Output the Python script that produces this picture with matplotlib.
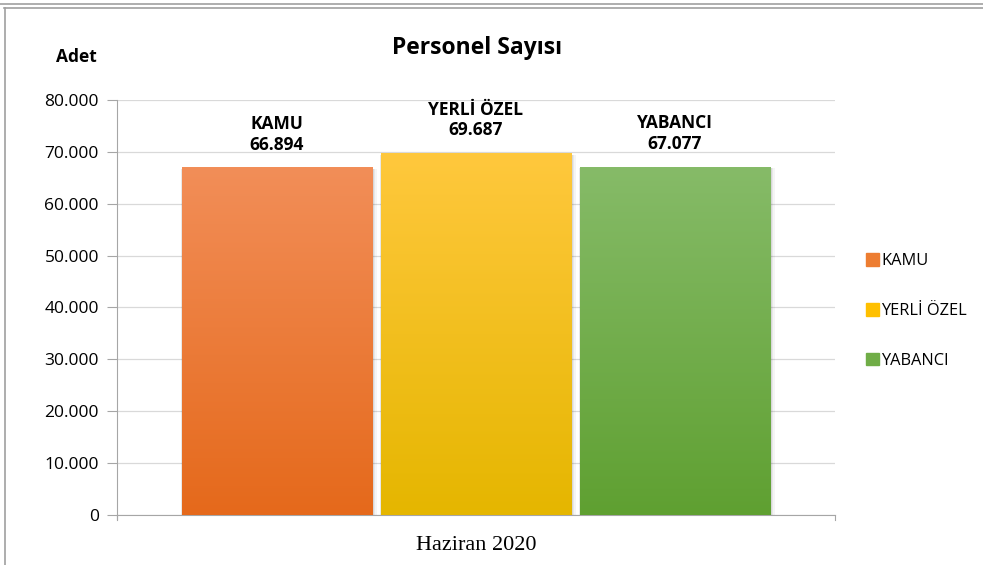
import numpy as np
import matplotlib.pyplot as plt
from matplotlib.colors import LinearSegmentedColormap
from matplotlib.patches import Rectangle
from matplotlib.lines import Line2D

# data
categories = ['KAMU', 'YERLİ ÖZEL', 'YABANCI']
values = [66894, 69687, 67077]
value_labels = ['66.894', '69.687', '67.077']
yticks = [0, 10000, 20000, 30000, 40000, 50000, 60000, 70000, 80000]
ytick_labels = ['0', '10.000', '20.000', '30.000', '40.000', '50.000', '60.000', '70.000', '80.000']
top_colors = ['#F28E58', '#FFC83D', '#86BB68']
bottom_colors = ['#E5691B', '#E5B600', '#5FA031']
legend_colors = ['#ED7D31', '#FFC000', '#70AD47']

plt.rcParams['font.family'] = ['Open Sans', 'DejaVu Sans']

fig = plt.figure(figsize=(9.83, 5.65), dpi=100)
ax = fig.add_axes([117/983, 1-515/565, 718/983, 415/565])

x = np.arange(len(categories))
width = 0.955
ax.set_xlim(-0.804, 2.804)
ax.set_ylim(0, 80000)

bars = ax.bar(x, values, width=width, color='none', zorder=3)
grad = np.linspace(0, 1, 256).reshape(-1, 1)
for i, b in enumerate(bars):
    x0 = b.get_x()
    h = b.get_height()
    # soft shadow, mostly to the right
    for k, a in enumerate([0.04, 0.05, 0.07]):
        off = 0.006 * (3 - k)
        ax.add_patch(Rectangle((x0 - off*0.3, 0), width + off*1.6, h - 200,
                               color='#000000', alpha=a, lw=0, zorder=2))
    cmap = LinearSegmentedColormap.from_list('g', [bottom_colors[i], top_colors[i]])
    ax.imshow(grad, cmap=cmap, extent=[x0, x0 + width, 0, h], origin='lower',
              aspect='auto', zorder=3)
    ax.text(x[i], h + 2700, categories[i] + '\n' + value_labels[i], ha='center', va='bottom',
            fontsize=12.5, fontweight='bold', linespacing=1.2, zorder=4)

ax.set_aspect('auto')
ax.set_xlim(-0.804, 2.804)
ax.set_ylim(0, 80000)
ax.set_yticks(yticks)
ax.set_yticklabels(ytick_labels, fontsize=12.5)
ax.yaxis.grid(True, color='#D9D9D9', lw=0.9, zorder=0)
ax.set_axisbelow(True)
ax.set_xticks([])
ax.tick_params(axis='y', length=7, color='#A6A6A6', pad=6)
for s in ['top', 'right']:
    ax.spines[s].set_visible(False)
ax.spines['left'].set_color('#A6A6A6')
ax.spines['bottom'].set_color('#A6A6A6')
ax.spines['left'].set_bounds(-800, 80000)

# end ticks on the category axis
ax.plot([-0.804, -0.804], [0, -1000], color='#A6A6A6', lw=0.8, clip_on=False)
ax.plot([2.804, 2.804], [0, -1000], color='#A6A6A6', lw=0.8, clip_on=False)

ax.set_xlabel('Haziran 2020', fontsize=16, family='Liberation Serif', labelpad=15)

fig.text(477/983, 1-48/565, 'Personel Sayısı', ha='center', va='center',
         fontsize=16.5, fontweight='bold')
fig.text(76/983, 1-57/565, 'Adet', ha='center', va='center', fontsize=12.5, fontweight='bold')

handles = [Rectangle((0, 0), 1, 1, color=c) for c in legend_colors]
fig.legend(handles, categories, loc='center left', bbox_to_anchor=(851/983, 1-311/565),
           frameon=False, fontsize=11.8, handlelength=0.8, handleheight=0.8,
           handletextpad=0.15, labelspacing=2.05)

# outer frame
fig.add_artist(Line2D([0, 1], [1-3.5/565, 1-3.5/565], color='#A0A0A0', lw=1.2))
fig.add_artist(Line2D([4/983, 1], [1-7.5/565, 1-7.5/565], color='#A0A0A0', lw=1.2))
fig.add_artist(Line2D([4.5/983, 4.5/983], [0, 1-7.5/565], color='#A0A0A0', lw=1.2))

fig.savefig('out.png', dpi=100)
